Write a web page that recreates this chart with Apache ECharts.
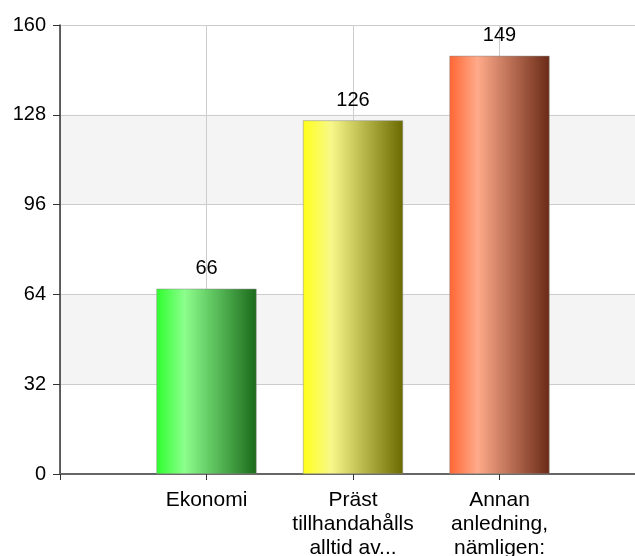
<!DOCTYPE html>
<html>
<head>
<meta charset="utf-8">
<script src="https://cdn.jsdelivr.net/npm/echarts@6/dist/echarts.min.js"></script>
<style>html,body{margin:0;padding:0;background:#fff;}#c{width:635px;height:556px;}</style>
</head>
<body>
<div id="c"></div>
<script>
const categories = ['', 'Ekonomi', 'Präst\ntillhandahålls\nalltid av...', 'Annan\nanledning,\nnämligen:', ''];
const values = ['-', 66, 126, 149, '-'];
const yTicks = [0, 32, 64, 96, 128, 160];
const barColors = [
  null,
  ['#2eff2e', '#8cff8c', '#1a6a1a'],
  ['#ffff1a', '#f8f88a', '#6a6a00'],
  ['#ff6633', '#ffaa8a', '#6a2a16'],
  null
];

function grad(c) {
  return new echarts.graphic.LinearGradient(0, 0, 1, 0, [
    {offset: 0, color: c[0]},
    {offset: 0.28, color: c[1]},
    {offset: 1, color: c[2]}
  ]);
}

const chart = echarts.init(document.getElementById('c'));
chart.setOption({
  animation: false,
  grid: {left: 60, top: 25, width: 586, height: 449, containLabel: false, outerBoundsMode: 'none'},
  xAxis: {
    type: 'category',
    data: categories,
    boundaryGap: false,
    axisLine: {lineStyle: {color: '#666', width: 2}},
    axisTick: {show: true, length: 6, lineStyle: {color: '#333'}},
    axisLabel: {
      color: '#000', fontSize: 21, fontFamily: 'Liberation Sans, Arial, sans-serif',
      lineHeight: 24, margin: 14, interval: 0
    },
    splitLine: {show: true, lineStyle: {color: '#cccccc'}}
  },
  yAxis: {
    type: 'value',
    min: yTicks[0], max: yTicks[yTicks.length - 1], interval: 32,
    axisLine: {show: true, lineStyle: {color: '#333', width: 1.5}},
    axisTick: {show: true, length: 7, lineStyle: {color: '#333'}},
    axisLabel: {color: '#000', fontSize: 20, fontFamily: 'Liberation Sans, Arial, sans-serif', margin: 14},
    splitLine: {show: true, lineStyle: {color: '#cccccc'}},
    splitArea: {show: true, areaStyle: {color: ['#ffffff', '#f4f4f4']}}
  },
  series: [{
    type: 'bar',
    barWidth: 100,
    data: values.map((v, i) => barColors[i] ? {value: v, itemStyle: {color: grad(barColors[i]), borderColor: '#888', borderWidth: 0.5}} : v),
    label: {
      show: true, position: 'top', distance: 10, color: '#000', fontSize: 20,
      fontFamily: 'Liberation Sans, Arial, sans-serif'
    }
  }]
});
</script>
</body>
</html>
